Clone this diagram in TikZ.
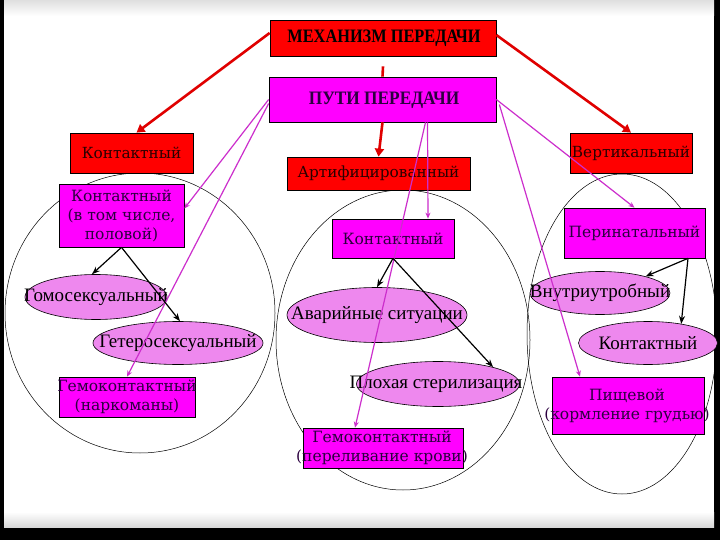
\documentclass[tikz,border=0pt]{standalone}
\usepackage{fontspec}
\setmainfont{Liberation Serif}
\newfontfamily\boxfont{DejaVu Serif}
\usetikzlibrary{shapes.geometric,arrows.meta,calc}
\definecolor{boxred}{HTML}{FF0000}
\definecolor{boxmag}{HTML}{FF00FF}
\definecolor{ellvio}{HTML}{EE88EE}
\definecolor{linemag}{HTML}{CC2ECC}
\definecolor{arrred}{HTML}{E00000}
\definecolor{txtred}{HTML}{2A0000}
\definecolor{txtmag}{HTML}{2C0040}
\begin{document}
\begin{tikzpicture}[x=1pt,y=-1pt,
  redbox/.style={draw=black,line width=0.7pt,fill=boxred,inner sep=0pt,rectangle},
  magbox/.style={draw=black,line width=0.7pt,fill=boxmag,inner sep=0pt,rectangle},
  smallell/.style={ellipse,draw=black,line width=0.6pt,fill=ellvio,inner sep=0pt},
  bigell/.style={ellipse,draw=black,line width=0.5pt,inner sep=0pt},
  redtxt/.style={text=txtred,font=\boxfont\fontsize{15.3}{18}\selectfont,align=center,inner sep=0pt},
  magtxt/.style={text=txtmag,font=\boxfont\fontsize{15.5}{19}\selectfont,align=center,inner sep=0pt},
  elltxt/.style={text=black,font=\fontsize{19}{22}\selectfont,inner sep=0pt},
  headtxt/.style={font=\bfseries\fontsize{19}{22}\selectfont,inner sep=0pt},
  redarrow/.style={draw=arrred,line width=2.6pt,-{Triangle[length=8pt,width=9pt]}},
  magarrow/.style={draw=linemag,line width=1.2pt,-{Stealth[length=6pt,width=5pt]}},
  blkarrow/.style={draw=black,line width=1.2pt,-{Stealth[length=8pt,width=6pt]}}
]
\useasboundingbox (0,0) rectangle (720,540);
% slide frame
\fill[black] (0,0) rectangle (720,540);
\fill[white] (4,0) rectangle (714,527);
\shade[top color=gray!25,bottom color=white] (4,0) rectangle (714,16);
\shade[top color=white,bottom color=gray!30] (4,512) rectangle (714,527);

% big ellipses
\node[bigell,minimum width=270pt,minimum height=280pt] (eL) at (140,313) {};
\node[bigell,minimum width=254pt,minimum height=300pt] (eM) at (403,340) {};
\node[bigell,minimum width=190pt,minimum height=320pt] (eR) at (622,334) {};

% head boxes
\node[redbox,minimum width=226pt,minimum height=36pt] (mech) at (383,38) {};
\node[headtxt,text=black] (mechT) at (384,38) {\scalebox{0.86}[1]{МЕХАНИЗМ ПЕРЕДАЧИ}};
\node[magbox,minimum width=227pt,minimum height=45pt] (puti) at (382.5,99.5) {};
\node[headtxt,text=txtmag] (putiT) at (384,100) {\scalebox{0.91}[1]{ПУТИ ПЕРЕДАЧИ}};

% red category boxes
\node[redbox,minimum width=123pt,minimum height=40pt] (kont) at (131.5,153) {};
\node[redtxt] (kontT) at (kont) {Контактный};
\node[redbox,minimum width=122pt,minimum height=40pt] (vert) at (631,153) {};
\node[redtxt] (vertT) at (vert) {Вертикальный};
\node[redbox,minimum width=183pt,minimum height=33pt] (art) at (378.5,173.5) {};
\node[redtxt] (artT) at (art) {Артифицированный};

% left group
\node[magbox,minimum width=125pt,minimum height=63pt] (k1) at (121.5,215.5) {};
\node[magtxt] (k1T) at (k1) {Контактный\\(в том числе,\\половой)};
\node[smallell,minimum width=142pt,minimum height=45pt] (homo) at (96,297) {};
\node[elltxt] (homoT) at (homo) {Гомосексуальный};
\node[smallell,minimum width=170pt,minimum height=43pt] (hetero) at (178,343) {};
\node[elltxt] (heteroT) at (hetero) {Гетеросексуальный};
\node[magbox,minimum width=136pt,minimum height=40pt] (hemo1) at (127,397) {};
\node[magtxt] (hemo1T) at (hemo1) {Гемоконтактный\\(наркоманы)};

% middle group
\node[magbox,minimum width=122pt,minimum height=39pt] (k2) at (393,238.5) {};
\node[magtxt] (k2T) at (k2) {Контактный};
\node[smallell,minimum width=180pt,minimum height=55pt] (avar) at (377,315) {};
\node[elltxt] (avarT) at (avar) {Аварийные ситуации};
\node[smallell,minimum width=163pt,minimum height=45pt] (ster) at (438,384) {};
\node[elltxt] (sterT) at (436,384) {Плохая стерилизация};
\node[magbox,minimum width=160pt,minimum height=40pt] (hemo2) at (383,448) {};
\node[magtxt] (hemo2T) at (382,448) {Гемоконтактный\\(переливание крови)};

% right group
\node[magbox,minimum width=141pt,minimum height=50pt] (perin) at (634.5,233) {};
\node[magtxt] (perinT) at (perin) {Перинатальный};
\node[smallell,minimum width=140pt,minimum height=43pt] (vnutr) at (600,293) {};
\node[elltxt] (vnutrT) at (600,293) {Внутриутробный};
\node[smallell,minimum width=139pt,minimum height=43pt] (kont3) at (648,343) {};
\node[elltxt] (kont3T) at (kont3) {Контактный};
\node[magbox,minimum width=152pt,minimum height=57pt] (pish) at (628,405.5) {};
\node[magtxt] (pishT) at (627,405.5) {Пищевой\\(кормление грудью)};

% red connectors
\coordinate (dashTop) at ($(mech.south)+(0,10)$);
\draw[draw=arrred,line width=2.6pt] (dashTop) -- (puti.north);
\draw[redarrow] ([yshift=5pt]mech.west) -- ([xshift=5pt]kont.north);
\draw[redarrow] ([yshift=3pt]mech.east) -- (vert.north);
\draw[redarrow] (puti.south) -- (art.north);

% magenta connectors
\draw[magarrow] ([yshift=0pt]puti.west) -- ([yshift=7pt]k1.east);
\draw[magarrow] ([yshift=-4pt]puti.west) -- (hemo1.north);
\draw[magarrow] ([xshift=45pt]puti.south) -- ([xshift=35pt]k2.north);
\draw[magarrow] ([xshift=43pt]puti.south) -- ([xshift=-28pt]hemo2.north);
\draw[magarrow] ([yshift=0pt]puti.east) -- (perin.north);
\draw[magarrow] ([xshift=3pt,yshift=-5pt]puti.east) -- ([xshift=-48pt]pish.north);

% black connectors
\draw[blkarrow] (k1.south) -- ([xshift=-4pt]homo.north);
\draw[blkarrow] (k1.south) -- ([xshift=2pt]hetero.north);
\draw[blkarrow] (k2.south) -- (avar.north);
\draw[blkarrow] (k2.south) -- (ster.17);
\draw[blkarrow] ([xshift=53.5pt]perin.south) -- (vnutr.20);
\draw[blkarrow] ([xshift=53.5pt]perin.south) -- (kont3.30);
\end{tikzpicture}
\end{document}
